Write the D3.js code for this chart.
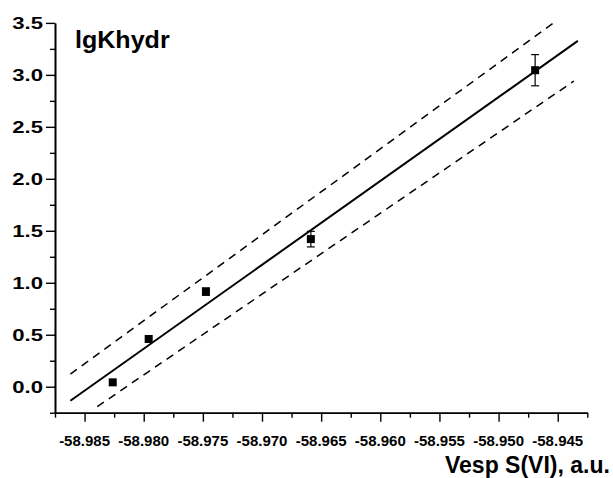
<!DOCTYPE html>
<html><head><meta charset="utf-8">
<script src="https://cdn.jsdelivr.net/npm/d3@7"></script>
<style>body{margin:0;background:#fff}svg{display:block}</style>
</head><body>
<svg id="c" width="613" height="478"></svg>
<script>
// ---- data ----
const xValues = [-58.98262, -58.97958, -58.97474, -58.96587, -58.94691];
const yValues = [0.042, 0.459, 0.915, 1.42, 3.045];
const yErrors = [0, 0, 0.035, 0.075, 0.15];
const fitX = [-58.9862, -58.9433];
const fitY = [-0.135, 3.327];
const upperX = [-58.9862, -58.9453];
const upperY = [0.122, 3.504];
const lowerX = [-58.98393, -58.94364];
const lowerY = [-0.192, 2.94];
const xTicks = [-58.985, -58.980, -58.975, -58.970, -58.965, -58.960, -58.955, -58.950, -58.945];
const xMinorTicks = [-58.9875, -58.9825, -58.9775, -58.9725, -58.9675, -58.9625, -58.9575, -58.9525, -58.9475, -58.9425];
const yTicks = [0, 0.5, 1.0, 1.5, 2.0, 2.5, 3.0, 3.5];
const yMinorTicks = [-0.25, 0.25, 0.75, 1.25, 1.75, 2.25, 2.75, 3.25];
const yTitle = "lgKhydr";
const xTitle = "Vesp S(VI), a.u.";

// ---- layout ----
const svg = d3.select("#c");
const FONT = "'Liberation Sans', Arial, Helvetica, sans-serif";
const x = d3.scaleLinear().domain([-58.9875, -58.9425]).range([55, 587.3]);
const y = d3.scaleLinear().domain([-0.25, 3.5]).range([412.7, 22.9]);

const clip = svg.append("clipPath").attr("id", "plotclip")
  .append("rect").attr("x", x.range()[0]).attr("y", y.range()[1])
  .attr("width", x.range()[1] - x.range()[0]).attr("height", y.range()[0] - y.range()[1]);

// axes
const xAxisG = svg.append("g").attr("transform", `translate(0,${y(-0.25)})`)
  .call(d3.axisBottom(x).tickValues(xTicks).tickSize(9).tickSizeOuter(0).tickFormat(""));
const xMinorG = svg.append("g").attr("transform", `translate(0,${y(-0.25)})`)
  .call(d3.axisBottom(x).tickValues(xMinorTicks).tickSize(5).tickSizeOuter(0).tickFormat(""));
const yAxisG = svg.append("g").attr("transform", `translate(${x(-58.9875)},0)`)
  .call(d3.axisLeft(y).tickValues(yTicks).tickSize(9).tickSizeOuter(0).tickFormat(""));
const yMinorG = svg.append("g").attr("transform", `translate(${x(-58.9875)},0)`)
  .call(d3.axisLeft(y).tickValues(yMinorTicks).tickSize(5).tickSizeOuter(0).tickFormat(""));
[xAxisG, xMinorG, yAxisG, yMinorG].forEach(g => {
  g.selectAll("path").attr("stroke", "#000").attr("stroke-width", 1.6);
  g.selectAll("line").attr("stroke", "#000").attr("stroke-width", 1.4);
});

// tick labels
const fmtX = d3.format(".3f");
svg.append("g").selectAll("text").data(xTicks).join("text")
  .attr("x", d => x(d)).attr("y", 446)
  .attr("text-anchor", "middle")
  .style("font-family", FONT).style("font-weight", "bold").style("font-size", "15px")
  .text(d => fmtX(d).replace("−", "-"));

const fmtY = d3.format(".1f");
svg.append("g").selectAll("text").data(yTicks).join("text")
  .attr("transform", d => `translate(43,${y(d) + 6.3}) scale(1.3,1)`)
  .attr("text-anchor", "end")
  .style("font-family", FONT).style("font-weight", "bold").style("font-size", "17px")
  .text(d => fmtY(d));

// titles
svg.append("text").attr("transform", "translate(75,48.3) scale(1.09,1)")
  .style("font-family", FONT).style("font-weight", "bold").style("font-size", "23px")
  .text(yTitle);
svg.append("text").attr("x", 445).attr("y", 472.7)
  .style("font-family", FONT).style("font-weight", "bold").style("font-size", "23px")
  .text(xTitle);

// lines
const line = d3.line().x(d => x(d[0])).y(d => y(d[1]));
const plot = svg.append("g").attr("clip-path", "url(#plotclip)");
plot.append("path").datum(d3.zip(upperX, upperY)).attr("d", line)
  .attr("fill", "none").attr("stroke", "#000").attr("stroke-width", 1.5).attr("stroke-dasharray", "8,6");
plot.append("path").datum(d3.zip(lowerX, lowerY)).attr("d", line)
  .attr("fill", "none").attr("stroke", "#000").attr("stroke-width", 1.5).attr("stroke-dasharray", "8,6");
plot.append("path").datum(d3.zip(fitX, fitY)).attr("d", line)
  .attr("fill", "none").attr("stroke", "#000").attr("stroke-width", 2);

// error bars
const pts = d3.zip(xValues, yValues, yErrors);
const eb = svg.append("g").selectAll("g").data(pts.filter(d => d[2] > 0)).join("g")
  .attr("stroke", "#000").attr("stroke-width", 1.2);
eb.append("line").attr("x1", d => x(d[0])).attr("x2", d => x(d[0]))
  .attr("y1", d => y(d[1] - d[2])).attr("y2", d => y(d[1] + d[2]));
eb.append("line").attr("x1", d => x(d[0]) - 4).attr("x2", d => x(d[0]) + 4)
  .attr("y1", d => y(d[1] + d[2])).attr("y2", d => y(d[1] + d[2]));
eb.append("line").attr("x1", d => x(d[0]) - 4).attr("x2", d => x(d[0]) + 4)
  .attr("y1", d => y(d[1] - d[2])).attr("y2", d => y(d[1] - d[2]));

// markers
svg.append("g").selectAll("rect").data(pts).join("rect")
  .attr("x", d => x(d[0]) - 4).attr("y", d => y(d[1]) - 4)
  .attr("width", 8).attr("height", 8).attr("fill", "#000");
</script>
</body></html>
